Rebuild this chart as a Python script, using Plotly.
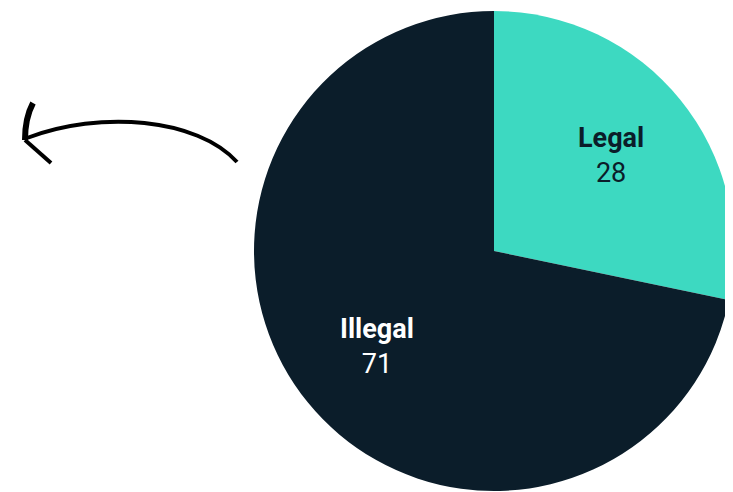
import math
import plotly.graph_objects as go

labels = ["Legal", "Illegal"]
values = [28, 71]
colors = ["#3DD9C1", "#0B1D2A"]
text_colors = ["#0B1D2A", "#FFFFFF"]

W, H = 733, 492
OFF = 8  # page body margin offset

def px(x):
    return (x - OFF) / W

def py(y):
    return 1 - (y - OFF) / H

# pie geometry (window pixels)
CX, CY, R = 494, 251, 240
dom_x = [px(CX - R), min(px(CX + R), 1.0)]
dom_y = [py(CY + R), py(CY - R)]

fig = go.Figure(go.Pie(
    labels=labels,
    values=values,
    sort=False,
    direction="clockwise",
    rotation=0,
    marker=dict(colors=colors, line=dict(width=0)),
    textinfo="none",
    hoverinfo="label+value",
    showlegend=False,
    domain=dict(x=dom_x, y=dom_y),
))

# labels placed along each slice's bisector, derived from the values
annotations = []
total = sum(values)
start = 0.0
for lab, val, tc in zip(labels, values, text_colors):
    frac = val / total
    mid = (start + frac / 2) * 2 * math.pi
    start += frac
    rr = 0.63 * R
    lx = CX + rr * math.sin(mid)
    ly = CY - rr * math.cos(mid)
    annotations.append(dict(
        x=px(lx), y=py(ly), xref="paper", yref="paper",
        text="<b>{}</b><br>{}".format(lab, val),
        showarrow=False,
        font=dict(family="Roboto", size=27, color=tc),
        xanchor="center", yanchor="middle",
    ))

# hand-drawn arrow (decoration)
curve = "M {} {} C {} {}, {} {}, {} {}".format(
    px(237), py(162), px(197), py(118), px(100), py(110), px(27), py(138))
head_up = "M {} {} Q {} {}, {} {}".format(px(25), py(140), px(25), py(118), px(33), py(103))
head_low = "M {} {} L {} {}".format(px(25), py(140), px(51), py(163))
shapes = [
    dict(type="path", path=curve, xref="paper", yref="paper",
         line=dict(color="black", width=4)),
    dict(type="path", path=head_up, xref="paper", yref="paper",
         line=dict(color="black", width=6)),
    dict(type="path", path=head_low, xref="paper", yref="paper",
         line=dict(color="black", width=4)),
]

fig.update_layout(
    width=W, height=H,
    margin=dict(l=0, r=0, t=0, b=0),
    paper_bgcolor="white",
    plot_bgcolor="white",
    shapes=shapes,
    annotations=annotations,
    font=dict(family="Roboto"),
)

fig.write_html("out.html")
